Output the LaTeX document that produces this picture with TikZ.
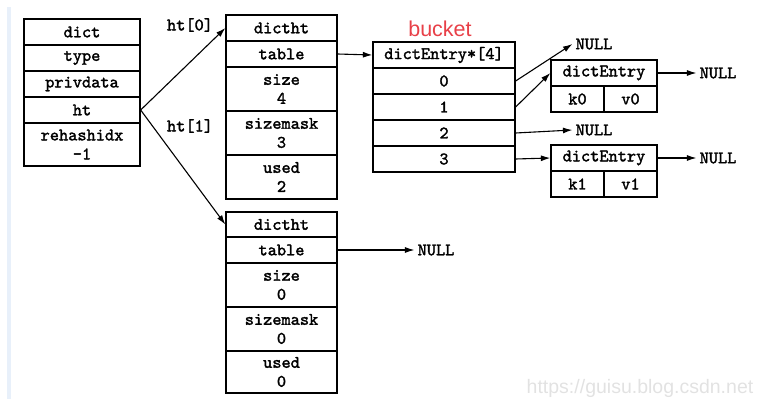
\documentclass[tikz,border=0pt]{standalone}
\usepackage{fontspec}
\setmainfont{Liberation Sans}
\setmonofont{lmmono10-regular.otf}[AutoFakeBold=1.8]
\usepackage{tikz}
\usetikzlibrary{arrows.meta}
\usetikzlibrary{calc}

\definecolor{bucketred}{RGB}{232,64,72}
\definecolor{wmgray}{RGB}{226,226,226}
\definecolor{bandblue}{RGB}{232,240,250}

\begin{document}
\begin{tikzpicture}[x=1pt, y=-1pt,
    cell/.style={draw, line width=1.3pt, inner sep=0pt, align=center,
                 font=\fontsize{17.5}{19}\selectfont\ttfamily\bfseries},
    lbl/.style={inner sep=3pt, font=\fontsize{17.5}{19}\selectfont\ttfamily\bfseries},
    ptr/.style={-{Latex[length=9.5pt,width=6pt]}, line width=1.1pt}]

  \useasboundingbox (0,0) rectangle (766,409);
  \fill[bandblue] (7,7) rectangle (11,399);

	%dict
 \def\dx{82};
    \foreach \y/\h/\txt/\name in {32/26/dict/dict, 58/26/type/type, 84/26/privdata/priv, 110/26/ht/ht, 144.5/43/{rehashidx\\-1}/rehash}{
         \node[cell, minimum width=116, minimum height=\h] (\name) at (\dx, \y) {\txt};
    }

 \node[lbl] (lht0) at (190, 25) {ht[0]};
 \node[lbl] (lht1) at (190, 126) {ht[1]};

	%dictht ht[0]
 \def\dx{281.5};
 \def\dy{15};
    \foreach \t/\h/\txt/\name in {0/26/dictht/t0head, 26/26/table/t0table, 52/44/{size\\4}/t0size, 96/44/{sizemask\\3}/t0mask, 140/44/{used\\2}/t0used}{
         \node[cell, minimum width=111, minimum height=\h] (\name) at (\dx, {\dy+\t+\h/2}) {\txt};
    }

	%dictht ht[1]
 \def\dx{281.5};
 \def\dy{212};
    \foreach \t/\h/\txt/\name in {0/25/dictht/t1head, 25/26/table/t1table, 51/44/{size\\0}/t1size, 95/44/{sizemask\\0}/t1mask, 139/42/{used\\0}/t1used}{
         \node[cell, minimum width=111, minimum height=\h] (\name) at (\dx, {\dy+\t+\h/2}) {\txt};
    }

	%bucket
 \node[text=bucketred, font=\fontsize{21.5}{24}\selectfont] (bucket) at (440, 29) {bucket};
 \def\dx{444};
 \def\dy{42};
    \foreach \i/\txt/\name in {0/dictEntry*[4]/bk, 1/0/b0, 2/1/b1, 3/2/b2, 4/3/b3}{
         \node[cell, minimum width=142, minimum height=26] (\name) at (\dx, {\dy+\i*26+13}) {\txt};
    }

	%entries
 \def\dy{60};
    \node[cell, minimum width=106, minimum height=26] (e0) at (604, \dy+13) {dictEntry};
    \node[cell, minimum width=53, minimum height=26] (k0) at (577.5, \dy+39) {k0};
    \node[cell, minimum width=53, minimum height=26] (v0) at (630.5, \dy+39) {v0};
 \def\dy{145};
    \node[cell, minimum width=106, minimum height=26] (e1) at (604, \dy+13) {dictEntry};
    \node[cell, minimum width=53, minimum height=26] (k1) at (577.5, \dy+39) {k1};
    \node[cell, minimum width=53, minimum height=26] (v1) at (630.5, \dy+39) {v1};

	%NULL
    \foreach \x/\y/\name in {594/44/nb0, 594/130/nb2, 718/73/ne0, 718/158/ne1, 436/250/nt1}{
         \node[lbl] (\name) at (\x, \y) {NULL};
    }

	%pointers
    \draw[ptr] (ht.east) -- (t0head.west);
    \draw[ptr] (ht.east) -- (t1head.west);
    \draw[ptr] (t0table.east) -- (bk.west);
    \draw[ptr] (t1table.east) -- (nt1.west);
    \draw[ptr] (b0.east) -- (nb0.west);
    \draw[ptr] (b1.east) -- (e0.west);
    \draw[ptr] (b2.east) -- (nb2.west);
    \draw[ptr] (b3.east) -- (e1.west);
    \draw[ptr] (e0.east) -- (ne0.west);
    \draw[ptr] (e1.east) -- (ne1.west);

	%watermark
 \node[text=wmgray, font=\fontsize{19.5}{22}\selectfont] (wm) at (640, 388) {https://guisu.blog.csdn.net};

\end{tikzpicture}
\end{document}
